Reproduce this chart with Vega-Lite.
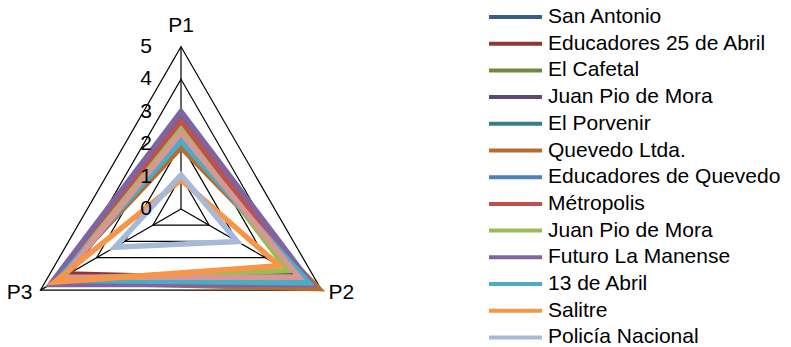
{
  "$schema": "https://vega.github.io/schema/vega-lite/v6.json",
  "width": 791,
  "height": 347,
  "autosize": {"type": "none"},
  "padding": 0,
  "background": "white",
  "config": {
    "view": {"stroke": null},
    "font": "Liberation Sans",
    "legend": {
      "orient": "none",
      "legendX": 505,
      "legendY": 6.5,
      "padding": 0,
      "symbolType": "M-4.417,0H4.417",
      "symbolSize": 144,
      "symbolStrokeWidth": 4,
      "symbolOpacity": 1,
      "labelFont": "Liberation Sans",
      "labelFontSize": 21,
      "labelColor": "#000000",
      "labelOffset": 22,
      "labelLimit": 400,
      "rowPadding": 4.7
    }
  },
  "datasets": {
    "series": [
      {"s": "San Antonio", "k": "P1", "v": 2.6},
      {"s": "San Antonio", "k": "P2", "v": 4.3},
      {"s": "San Antonio", "k": "P3", "v": 4.3},
      {"s": "Educadores 25 de Abril", "k": "P1", "v": 2.7},
      {"s": "Educadores 25 de Abril", "k": "P2", "v": 4.4},
      {"s": "Educadores 25 de Abril", "k": "P3", "v": 4.0},
      {"s": "El Cafetal", "k": "P1", "v": 2.5},
      {"s": "El Cafetal", "k": "P2", "v": 4.2},
      {"s": "El Cafetal", "k": "P3", "v": 4.3},
      {"s": "Juan Pio de Mora", "k": "P1", "v": 2.9},
      {"s": "Juan Pio de Mora", "k": "P2", "v": 4.6},
      {"s": "Juan Pio de Mora", "k": "P3", "v": 4.5},
      {"s": "El Porvenir", "k": "P1", "v": 2.8},
      {"s": "El Porvenir", "k": "P2", "v": 4.5},
      {"s": "El Porvenir", "k": "P3", "v": 4.4},
      {"s": "Quevedo Ltda.", "k": "P1", "v": 1.9},
      {"s": "Quevedo Ltda.", "k": "P2", "v": 4.9},
      {"s": "Quevedo Ltda.", "k": "P3", "v": 4.5},
      {"s": "Educadores de Quevedo", "k": "P1", "v": 2.2},
      {"s": "Educadores de Quevedo", "k": "P2", "v": 4.3},
      {"s": "Educadores de Quevedo", "k": "P3", "v": 4.3},
      {"s": "Métropolis", "k": "P1", "v": 2.7},
      {"s": "Métropolis", "k": "P2", "v": 4.5},
      {"s": "Métropolis", "k": "P3", "v": 4.4},
      {"s": "Juan Pio de Mora ", "k": "P1", "v": 2.45},
      {"s": "Juan Pio de Mora ", "k": "P2", "v": 3.8},
      {"s": "Juan Pio de Mora ", "k": "P3", "v": 4.3},
      {"s": "Futuro La Manense", "k": "P1", "v": 3.0},
      {"s": "Futuro La Manense", "k": "P2", "v": 4.65},
      {"s": "Futuro La Manense", "k": "P3", "v": 4.65},
      {"s": "13 de Abril", "k": "P1", "v": 2.1},
      {"s": "13 de Abril", "k": "P2", "v": 4.55},
      {"s": "13 de Abril", "k": "P3", "v": 4.4},
      {"s": "Otra", "k": "P1", "v": 2.35},
      {"s": "Otra", "k": "P2", "v": 4.2},
      {"s": "Otra", "k": "P3", "v": 4.2},
      {"s": "Salitre", "k": "P1", "v": 0.9},
      {"s": "Salitre", "k": "P2", "v": 3.5},
      {"s": "Salitre", "k": "P3", "v": 4.5},
      {"s": "Policía Nacional", "k": "P1", "v": 1.05},
      {"s": "Policía Nacional", "k": "P2", "v": 2.0},
      {"s": "Policía Nacional", "k": "P3", "v": 2.35}
    ],
    "grid": [
      {"lvl": 1, "k": "P1"}, {"lvl": 1, "k": "P2"}, {"lvl": 1, "k": "P3"},
      {"lvl": 2, "k": "P1"}, {"lvl": 2, "k": "P2"}, {"lvl": 2, "k": "P3"},
      {"lvl": 3, "k": "P1"}, {"lvl": 3, "k": "P2"}, {"lvl": 3, "k": "P3"},
      {"lvl": 4, "k": "P1"}, {"lvl": 4, "k": "P2"}, {"lvl": 4, "k": "P3"},
      {"lvl": 5, "k": "P1"}, {"lvl": 5, "k": "P2"}, {"lvl": 5, "k": "P3"}
    ],
    "ticks": [{"t": 0}, {"t": 1}, {"t": 2}, {"t": 3}, {"t": 4}, {"t": 5}]
  },
  "layer": [
    {
      "data": {"name": "grid"},
      "transform": [
        {"calculate": "indexof(['P1','P2','P3'], datum.k) * 2 * PI / 3", "as": "a"},
        {"calculate": "datum.lvl * sin(datum.a)", "as": "x"},
        {"calculate": "datum.lvl * cos(datum.a)", "as": "y"}
      ],
      "mark": {"type": "line", "interpolate": "linear-closed", "color": "#000000", "strokeWidth": 1.2},
      "encoding": {
        "x": {"field": "x", "type": "quantitative", "scale": {"domain": [-5.578, 18.798], "nice": false, "zero": false}, "axis": null},
        "y": {"field": "y", "type": "quantitative", "scale": {"domain": [-4.253, 6.441], "nice": false, "zero": false}, "axis": null},
        "detail": {"field": "lvl", "type": "nominal"},
        "order": {"field": "a", "type": "quantitative"}
      }
    },
    {
      "data": {"name": "grid"},
      "transform": [
        {"filter": "datum.lvl == 5"},
        {"calculate": "indexof(['P1','P2','P3'], datum.k) * 2 * PI / 3", "as": "a"},
        {"calculate": "datum.lvl * sin(datum.a)", "as": "x"},
        {"calculate": "datum.lvl * cos(datum.a)", "as": "y"}
      ],
      "mark": {"type": "rule", "color": "#000000", "strokeWidth": 1.2},
      "encoding": {
        "x": {"field": "x", "type": "quantitative"},
        "y": {"field": "y", "type": "quantitative"},
        "x2": {"datum": 0},
        "y2": {"datum": 0}
      }
    },
    {
      "data": {"name": "series"},
      "transform": [
        {"calculate": "indexof(['P1','P2','P3'], datum.k) * 2 * PI / 3", "as": "a"},
        {"calculate": "datum.v * sin(datum.a)", "as": "x"},
        {"calculate": "datum.v * cos(datum.a)", "as": "y"}
      ],
      "mark": {"type": "line", "interpolate": "linear-closed", "strokeWidth": 5.5, "strokeJoin": "miter", "strokeMiterLimit": 10},
      "encoding": {
        "x": {"field": "x", "type": "quantitative"},
        "y": {"field": "y", "type": "quantitative"},
        "order": {"field": "a", "type": "quantitative"},
        "color": {
          "field": "s",
          "type": "nominal",
          "sort": null,
          "scale": {
            "domain": ["San Antonio", "Educadores 25 de Abril", "El Cafetal", "Juan Pio de Mora", "El Porvenir", "Quevedo Ltda.", "Educadores de Quevedo", "Métropolis", "Juan Pio de Mora ", "Futuro La Manense", "13 de Abril", "Salitre", "Policía Nacional", "Otra"],
            "range": ["#385d8a", "#8c3836", "#71893f", "#5c4776", "#357d91", "#b66d31", "#4f81bd", "#c0504d", "#9bbb59", "#8064a2", "#4bacc6", "#f79646", "#a7b9d9", "#d99694"]
          },
          "legend": {
            "title": null,
            "values": ["San Antonio", "Educadores 25 de Abril", "El Cafetal", "Juan Pio de Mora", "El Porvenir", "Quevedo Ltda.", "Educadores de Quevedo", "Métropolis", "Juan Pio de Mora ", "Futuro La Manense", "13 de Abril", "Salitre", "Policía Nacional"]
          }
        }
      }
    },
    {
      "data": {"name": "ticks"},
      "mark": {"type": "text", "align": "right", "baseline": "middle", "dx": -29, "fontSize": 21, "color": "#000000"},
      "encoding": {
        "x": {"datum": 0},
        "y": {"field": "t", "type": "quantitative"},
        "text": {"field": "t", "type": "quantitative"}
      }
    },
    {
      "data": {"name": "grid"},
      "transform": [
        {"filter": "datum.lvl == 5 && datum.k == 'P1'"},
        {"calculate": "datum.lvl * 0", "as": "x"}
      ],
      "mark": {"type": "text", "align": "center", "baseline": "alphabetic", "dy": -15, "fontSize": 21, "color": "#000000"},
      "encoding": {
        "x": {"field": "x", "type": "quantitative"},
        "y": {"field": "lvl", "type": "quantitative"},
        "text": {"field": "k"}
      }
    },
    {
      "data": {"name": "grid"},
      "transform": [
        {"filter": "datum.lvl == 5 && datum.k == 'P2'"},
        {"calculate": "datum.lvl * sin(2 * PI / 3)", "as": "x"},
        {"calculate": "datum.lvl * cos(2 * PI / 3)", "as": "y"}
      ],
      "mark": {"type": "text", "align": "left", "baseline": "middle", "dx": 7, "dy": 3, "fontSize": 21, "color": "#000000"},
      "encoding": {
        "x": {"field": "x", "type": "quantitative"},
        "y": {"field": "y", "type": "quantitative"},
        "text": {"field": "k"}
      }
    },
    {
      "data": {"name": "grid"},
      "transform": [
        {"filter": "datum.lvl == 5 && datum.k == 'P3'"},
        {"calculate": "datum.lvl * sin(4 * PI / 3)", "as": "x"},
        {"calculate": "datum.lvl * cos(4 * PI / 3)", "as": "y"}
      ],
      "mark": {"type": "text", "align": "right", "baseline": "middle", "dx": -8, "dy": 3, "fontSize": 21, "color": "#000000"},
      "encoding": {
        "x": {"field": "x", "type": "quantitative"},
        "y": {"field": "y", "type": "quantitative"},
        "text": {"field": "k"}
      }
    }
  ]
}
